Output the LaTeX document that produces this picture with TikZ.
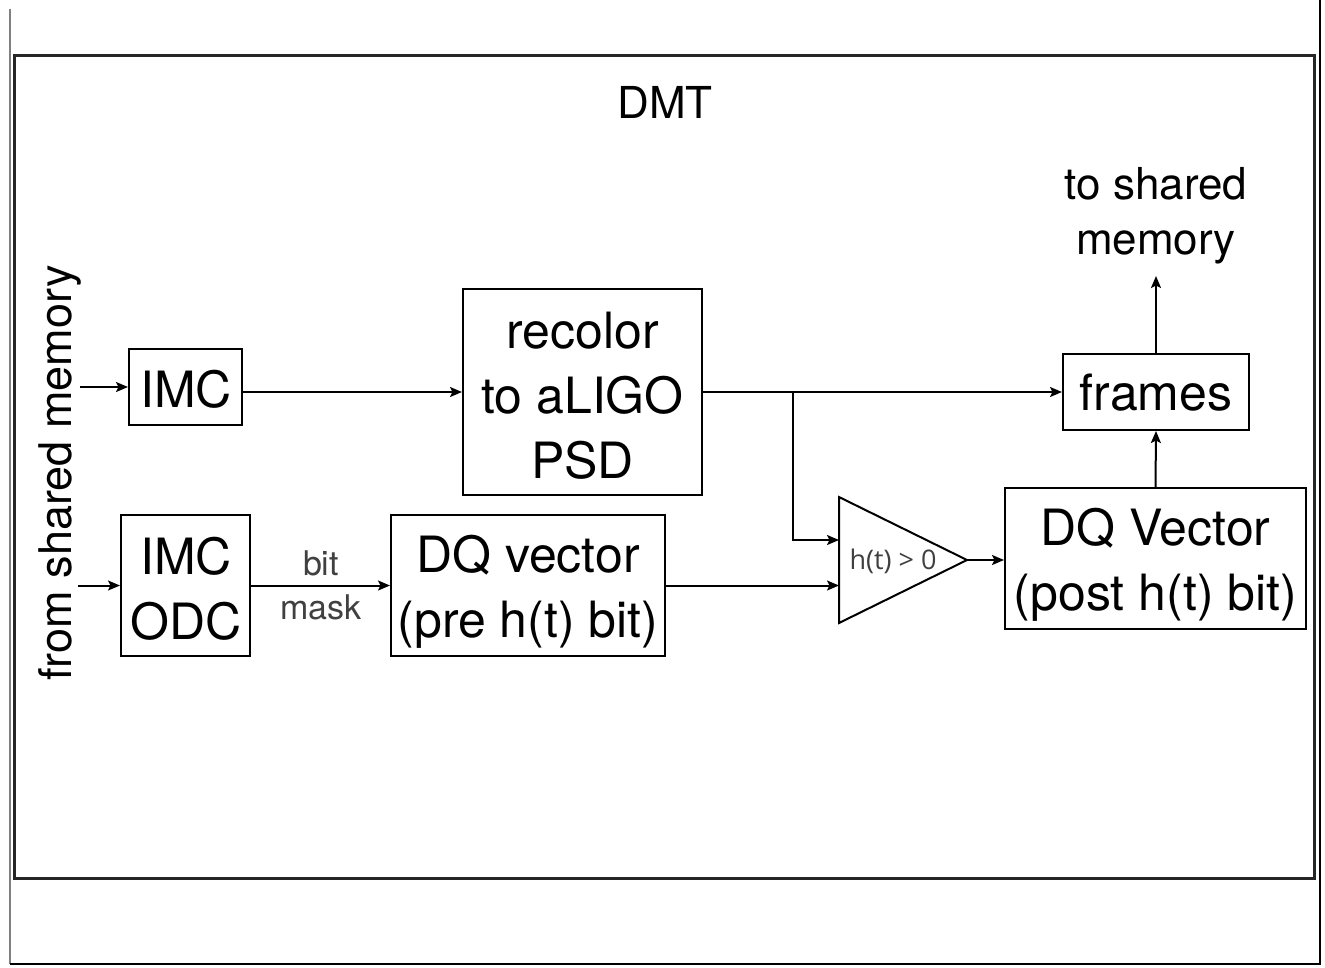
\documentclass[tikz,border=0pt]{standalone}
\usepackage{fontspec}
\setmainfont{TeX Gyre Heros}
\newfontfamily\trifont{Open Sans}
\usetikzlibrary{arrows.meta}
\definecolor{txtgrey}{HTML}{404040}
\begin{document}
\begin{tikzpicture}[x=1pt,y=-1pt,
  box/.style={draw=black,line width=2pt,inner sep=0pt},
  btxt/.style={align=center,inner sep=0pt,font=\fontsize{50}{65}\selectfont},
  arr/.style={line width=2pt,-{Stealth[length=12pt,width=10pt,inset=2.5pt]}},
  ln/.style={line width=2pt}]
\useasboundingbox (0,0) rectangle (1325,967);
% outer frame
\draw[gray,line width=1.5pt] (10,9) -- (10,964);
\draw[black,line width=1.5pt] (10,964) -- (1320,964) -- (1320,0);
% main DMT box
\draw[black!85,line width=3pt] (14,55) rectangle (1314,878);
\node[font=\fontsize{44}{55}\selectfont] (dmt) at (665,102) {DMT};
% boxes
\node[box,minimum width=113pt,minimum height=76pt] (imc) at (185.5,387) {};
\node[box,minimum width=239pt,minimum height=206pt] (rc) at (582.5,392) {};
\node[box,minimum width=186pt,minimum height=76pt] (fr) at (1156,392) {};
\node[box,minimum width=129pt,minimum height=141pt] (odc) at (185.5,585.5) {};
\node[box,minimum width=274pt,minimum height=141pt] (dqv) at (528,585.5) {};
\node[box,minimum width=301pt,minimum height=141pt] (dqp) at (1155.5,558.5) {};
\node[btxt] (imct) at (186,389) {IMC};
\node[btxt] (rct) at (582.5,396) {recolor\\to aLIGO\\PSD};
\node[btxt] (frt) at (1156,393) {frames};
\node[btxt] (odct) at (186,589) {IMC\\ODC};
\node[btxt] (dqvt) at (528,592) {DQ vector\\(pre h(t) bit)};
\node[btxt] (dqpt) at (1155.5,565) {DQ Vector\\(post h(t) bit)};
% triangle
\coordinate (ta) at (839,497);
\coordinate (tb) at (839,623);
\coordinate (tout) at (967,560);
\draw[line width=2pt,line join=miter] (ta) -- (tout) -- (tb) -- cycle;
\node[font=\trifont\fontsize{27}{30}\selectfont,text=txtgrey] (tl) at (893,561) {h(t) > 0};
\coordinate (tin1) at (839,540);
\coordinate (tin2) at (839,585.5);
% labels
\node[font=\fontsize{44}{55}\selectfont,align=center] (tsm) at (1156,216) {to shared\\memory};
\node[font=\fontsize{45}{55}\selectfont,rotate=90] (fsm) at (60,473) {from shared memory};
\node[font=\fontsize{34}{44}\selectfont,text=txtgrey] (bit) at (321,563) {bit};
\node[font=\fontsize{34}{44}\selectfont,text=txtgrey] (mask) at (321,607) {mask};
% connectors
\coordinate (in1) at (80,387);
\coordinate (in2) at (78,585.5);
\coordinate (br) at (793,392);
\coordinate (top) at (1156,276);
\draw[arr] (in1) -- (imc.west |- in1);
\draw[arr] (in2) -- (odc.west);
\draw[arr] (imc.east |- rc.west) -- (rc.west);
\draw[arr] (rc.east) -- (fr.west);
\draw[arr] (br) |- (tin1);
\draw[arr] (dqv.east) -- (tin2);
\draw[arr] (odc.east) -- (dqv.west);
\draw[arr] (tout) -- (dqp.west |- tout);
\draw[arr] (dqp.north) -- (fr.south);
\draw[arr] (fr.north) -- (top);
\end{tikzpicture}
\end{document}
